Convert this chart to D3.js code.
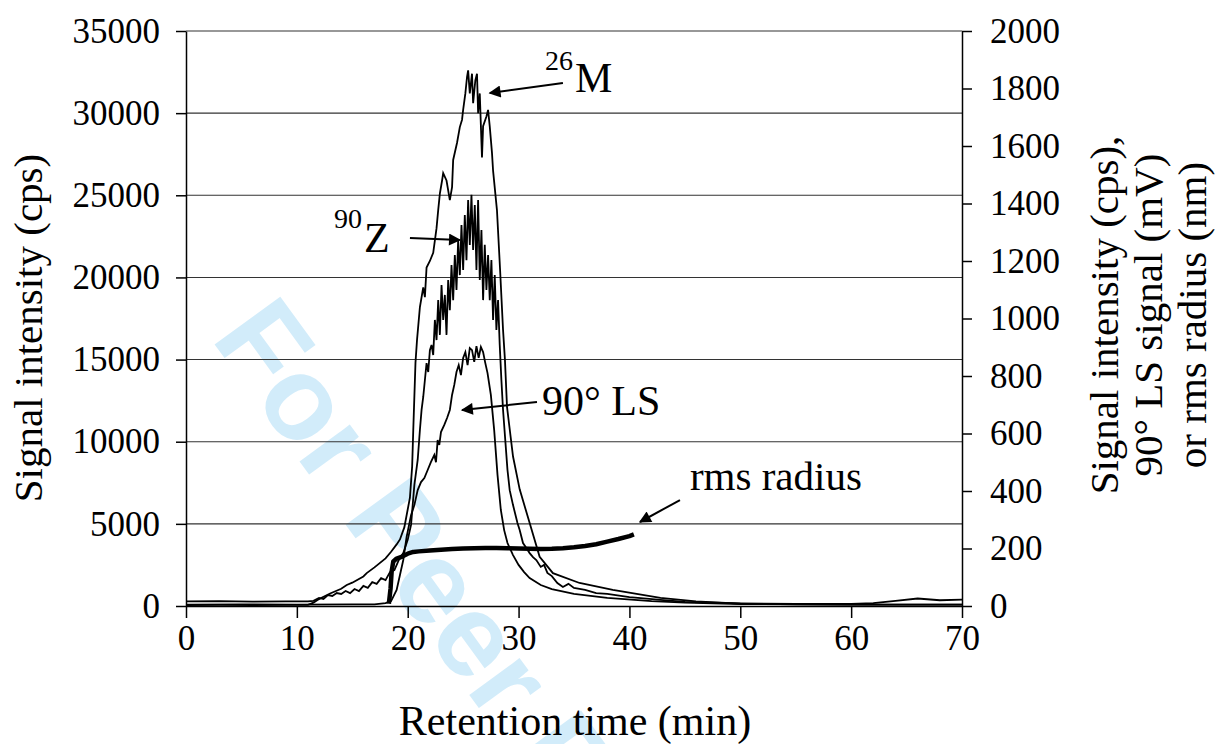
<!DOCTYPE html>
<html>
<head>
<meta charset="utf-8">
<script src="https://cdn.jsdelivr.net/npm/d3@7"></script>
<style>
  body { margin: 0; background: #fff; }
  text { font-family: "Liberation Serif", "Times New Roman", serif; fill: #000; }
</style>
</head>
<body>
<div id="chart"></div>
<script>
'use strict';

// tick values
var xTicks = [0, 10, 20, 30, 40, 50, 60, 70];
var leftTicks = [0, 5000, 10000, 15000, 20000, 25000, 30000, 35000];
var rightTicks = [0, 200, 400, 600, 800, 1000, 1200, 1400, 1600, 1800, 2000];

// 26Mg signal, [time (min), cps] on the left axis
var mgSeries = [[0,60],[3,70],[6,60],[9,70],[11,70],[11.5,200],[12,420],[13,760],[14,1050],[14.5,1280],[15,1420],
	[16,1800],[16.3,2000],[17,2350],[18,2900],[18.5,3300],[19,3750],[19.3,4050],[19.7,4800],[20.2,6600],[20.4,8500],
	[20.5,10700],[20.7,14800],[20.84,16200],[21.1,18200],[21.4,19400],[21.55,18800],[21.7,20600],[22.0,21000],[22.3,21500],
	[22.6,23000],[22.75,24100],[22.9,25100],[23.1,25900],[23.2,26350],[23.5,25900],[23.8,24700],[24.0,25500],
	[24.1,27150],[24.45,28200],[24.7,29150],[24.9,29600],[25.0,30200],[25.2,31200],[25.35,32200],[25.45,32600],
	[25.6,31200],[25.8,32400],[25.9,30600],[26.1,32000],[26.25,32400],[26.35,30000],[26.5,31200],[26.7,27300],
	[26.8,29200],[27.1,29800],[27.25,30200],[27.4,29200],[27.6,27600],[27.7,26500],[28.05,24100],[28.33,20500],
	[28.6,16800],[28.77,15000],[28.96,12100],[29.5,9100],[30.1,7100],[31.0,5050],[31.9,3000],[33.1,2000],
	[35.5,1400],[38.5,980],[42.8,490],[46,280],[50,150],[55,100],[60,80],[65,80],[70,80]];

// 90Zr signal, [time (min), cps] on the right axis
var zrSeries = [[0,16],[3,17],[6,15],[9,16],[11,16],[11.5,18],[12,28],[12.4,24],[12.8,38],[13.2,35],[13.6,45],
	[14.0,42],[14.4,52],[14.8,45],[15.2,59],[15.6,52],[16.0,70],[16.4,63],[16.8,83],[17.2,77],[17.6,97],[18.0,90],
	[18.4,118],[18.8,125],[19.2,160],[19.6,184],[20.0,230],[20.3,282],[20.6,421],[20.9,508],[21.1,612],[21.25,682],
	[21.4,727],[21.55,786],[21.7,845],[21.85,814],[22.0,890],[22.15,908],[22.3,873],[22.45,995],[22.6,925],
	[22.75,1064],[22.9,943],[23.05,1116],[23.2,995],[23.35,1082],[23.5,943],[23.65,1134],[23.8,1029],[23.95,1186],
	[24.1,1064],[24.25,1221],[24.4,1099],[24.55,1273],[24.7,1151],[24.85,1325],[25.0,1169],[25.15,1360],[25.3,1203],
	[25.45,1412],[25.6,1256],[25.75,1430],[25.9,1238],[26.05,1395],[26.2,1169],[26.35,1412],[26.5,1134],[26.65,1308],
	[26.8,1064],[26.95,1256],[27.1,1099],[27.25,1221],[27.4,1064],[27.55,1203],[27.7,995],[27.85,1151],[28.0,960],
	[28.15,1064],[28.3,908],[28.45,786],[28.6,682],[28.8,577],[29.0,473],[29.2,403],[29.5,351],[29.9,289],[30.1,264],
	[30.4,219],[30.7,202],[31.0,184],[31.3,170],[31.6,160],[32.0,136],[32.3,143],[32.6,115],[33.0,104],[33.5,80],
	[34.0,66],[34.5,77],[35,63],[36,56],[37,45],[38,42],[40,31],[42.8,21],[45,14],[50,9],[55,7],[60,7],[62,10],
	[64,18],[66,26],[68,20],[70,22]];

// 90 degree light scattering, [time (min), mV] on the right axis
var lsSeries = [[0,5],[5,6],[10,5],[15,6],[17,6],[18,10],[18.5,17],[19,56],[19.3,108],[19.6,160],[19.9,240],
	[20.3,316],[20.6,351],[20.9,403],[21.2,431],[21.5,445],[21.8,473],[22.1,501],[22.4,525],[22.55,500],[22.7,577],
	[22.85,560],[23.0,605],[23.3,630],[23.55,654],[23.8,682],[24.0,734],[24.2,769],[24.4,814],[24.6,838],[24.8,803],
	[25.0,863],[25.2,883],[25.4,838],[25.6,897],[25.8,890],[26.0,849],[26.2,904],[26.4,863],[26.6,901],[26.8,883],
	[27.0,845],[27.2,810],[27.5,734],[27.8,612],[28.1,456],[28.4,334],[28.7,264],[29.0,219],[29.5,177],[30,143],
	[30.5,118],[31,97],[32,73],[33,59],[35,42],[38,28],[42,17],[45,12],[50,7],[60,5],[70,5]];

// rms radius, [time (min), nm] on the right axis
var radiusSeries = [[18.3,8],[18.45,60],[18.55,120],[18.7,155],[19.0,165],[19.5,172],[20,182],[20.5,188],[21,190],
	[22,193],[23,196],[24,198],[25,200],[26,201],[27,202],[28,202],[29,201],[30,200],[31,199],[32,198],[33,199],
	[34,201],[35,204],[36,209],[37,215],[38,224],[39,233],[40,243],[40.4,249]];

var width = 1224;
var height = 744;
var margin = {top: 31, right: 262, bottom: 138, left: 186};
var plotW = width - margin.left - margin.right;
var plotH = height - margin.top - margin.bottom;

var svg = d3.select('#chart').append('svg')
	.attr('width', width)
	.attr('height', height);

// watermark behind everything
svg.append('text')
	.attr('transform', 'translate(210,338) rotate(54)')
	.style('font-family', '"Liberation Sans", Arial, sans-serif')
	.style('font-weight', 'bold')
	.style('font-size', '118px')
	.style('fill', '#d2ecfa')
	.text('For Peer Review');

var g = svg.append('g')
	.attr('transform', 'translate(' + margin.left + ',' + margin.top + ')');

var x = d3.scaleLinear().domain([0, 70]).range([0, plotW]);
var yLeft = d3.scaleLinear().domain([0, 35000]).range([plotH, 0]);
var yRight = d3.scaleLinear().domain([0, 2000]).range([plotH, 0]);

// gridlines
g.append('g').attr('class', 'grid')
	.selectAll('line').data(leftTicks.slice(1)).enter().append('line')
	.attr('x1', 0).attr('x2', plotW)
	.attr('y1', function(d){ return yLeft(d); })
	.attr('y2', function(d){ return yLeft(d); })
	.style('stroke', '#333')
	.style('stroke-width', 1.1);

// axes
var fmt = d3.format('d');
var xAxis = d3.axisBottom(x).tickValues(xTicks).tickSize(12).tickSizeOuter(0).tickPadding(7).tickFormat(fmt);
var leftAxis = d3.axisLeft(yLeft).tickValues(leftTicks).tickSize(10).tickSizeOuter(0).tickPadding(16).tickFormat(fmt);
var rightAxis = d3.axisRight(yRight).tickValues(rightTicks).tickSize(10).tickSizeOuter(0).tickPadding(18).tickFormat(fmt);

g.append('g').attr('class', 'axis x').attr('transform', 'translate(0,' + plotH + ')').call(xAxis);
g.append('g').attr('class', 'axis y').call(leftAxis);
g.append('g').attr('class', 'axis y2').attr('transform', 'translate(' + plotW + ',0)').call(rightAxis);

g.selectAll('.axis text')
	.style('font-family', '"Liberation Serif", "Times New Roman", serif')
	.style('font-size', '35px')
	.style('fill', '#000');
g.selectAll('.axis path, .axis line')
	.style('stroke', '#000')
	.style('stroke-width', 1.5);

// series
var lineLeft = d3.line()
	.x(function(d){ return x(d[0]); })
	.y(function(d){ return yLeft(d[1]); });
var lineRight = d3.line()
	.x(function(d){ return x(d[0]); })
	.y(function(d){ return yRight(d[1]); });

var series = g.append('g').attr('class', 'series');
series.append('path').datum(lsSeries).attr('d', lineRight)
	.style('fill', 'none').style('stroke', '#000').style('stroke-width', 1.8);
series.append('path').datum(zrSeries).attr('d', lineRight)
	.style('fill', 'none').style('stroke', '#000').style('stroke-width', 1.8);
series.append('path').datum(mgSeries).attr('d', lineLeft)
	.style('fill', 'none').style('stroke', '#000').style('stroke-width', 1.8);
series.append('path').datum(radiusSeries).attr('d', lineRight)
	.style('fill', 'none').style('stroke', '#000').style('stroke-width', 4.5)
	.style('stroke-linejoin', 'round');

// annotations: arrow tail / head in data units (left axis)
var arrows = [
	{from: [34.0, 31835], to: [27.4, 31226]},
	{from: [20.2, 22400], to: [24.7, 22280]},
	{from: [31.66, 12417], to: [24.9, 11930]},
	{from: [44.56, 6452], to: [40.95, 5113]}
];

svg.append('defs').append('marker')
	.attr('id', 'head')
	.attr('viewBox', '0 0 10 10')
	.attr('refX', 9).attr('refY', 5)
	.attr('markerWidth', 7).attr('markerHeight', 6)
	.attr('markerUnits', 'strokeWidth')
	.attr('orient', 'auto')
	.append('path').attr('d', 'M0,0 L10,5 L0,10 z').style('fill', '#000');

g.append('g').attr('class', 'arrows')
	.selectAll('line').data(arrows).enter().append('line')
	.attr('x1', function(d){ return x(d.from[0]); })
	.attr('y1', function(d){ return yLeft(d.from[1]); })
	.attr('x2', function(d){ return x(d.to[0]); })
	.attr('y2', function(d){ return yLeft(d.to[1]); })
	.style('stroke', '#000')
	.style('stroke-width', 2)
	.attr('marker-end', 'url(#head)');

// labels: [time, value] of the text baseline start
var labels = [
	{t: 32.38, v: 32626, text: '26', size: 28},
	{t: 35.09, v: 31287, text: 'M', size: 42},
	{t: 13.35, v: 23009, text: '90', size: 28},
	{t: 16.06, v: 21548, text: 'Z', size: 42},
	{t: 32.11, v: 11626, text: '90\u00b0 LS', size: 42},
	{t: 45.46, v: 7061, text: 'rms radius', size: 41}
];

g.append('g').attr('class', 'labels')
	.selectAll('text').data(labels).enter().append('text')
	.attr('x', function(d){ return x(d.t); })
	.attr('y', function(d){ return yLeft(d.v); })
	.style('font-size', function(d){ return d.size + 'px'; })
	.text(function(d){ return d.text; });

// axis titles
svg.append('text')
	.attr('transform', 'translate(42,328) rotate(-90)')
	.attr('text-anchor', 'middle')
	.style('font-size', '41px')
	.text('Signal intensity (cps)');

svg.append('text')
	.attr('x', 575)
	.attr('y', 735)
	.attr('text-anchor', 'middle')
	.style('font-size', '42px')
	.text('Retention time (min)');

var rightTitle = ['Signal intensity (cps),', '90\u00b0 LS signal (mV)', 'or rms radius (nm)'];
svg.append('g')
	.attr('transform', 'translate(1118,315) rotate(-90)')
	.selectAll('text').data(rightTitle).enter().append('text')
	.attr('x', 0)
	.attr('y', function(d, i){ return i * 44; })
	.attr('text-anchor', 'middle')
	.style('font-size', '41px')
	.text(function(d){ return d; });
</script>
</body>
</html>
